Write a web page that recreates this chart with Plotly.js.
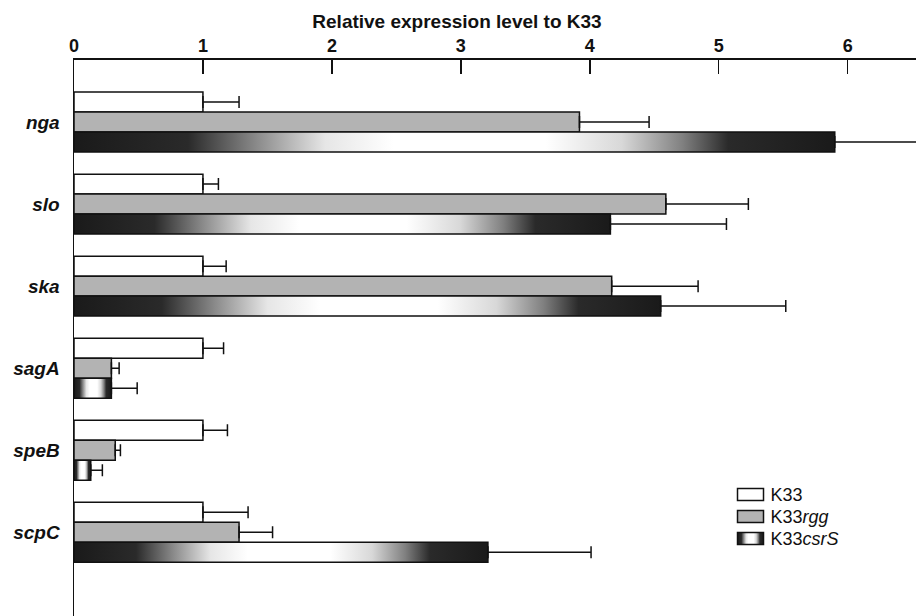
<!DOCTYPE html>
<html>
<head>
<meta charset="utf-8">
<script src="https://cdn.plot.ly/plotly-3.0.1.min.js"></script>
<style>
html,body{margin:0;padding:0;background:#fff;}
#chart{width:916px;height:616px;}
</style>
</head>
<body>
<div id="chart"></div>
<script>
// Data
const genes = ["nga", "slo", "ska", "sagA", "speB", "scpC"];
const k33 = [1.0, 1.0, 1.0, 1.0, 1.0, 1.0];
const k33Err = [1.28, 1.12, 1.18, 1.16, 1.19, 1.35];       // upper end of error bar
const k33rgg = [3.92, 4.59, 4.17, 0.29, 0.32, 1.28];
const k33rggErr = [4.46, 5.23, 4.84, 0.35, 0.36, 1.54];
const k33csrS = [5.90, 4.16, 4.55, 0.29, 0.13, 3.21];
const k33csrSErr = [6.75, 5.06, 5.52, 0.49, 0.22, 4.01];
const seriesNames = ["K33", "K33<i>rgg</i>", "K33<i>csrS</i>"];
const xTicks = [0, 1, 2, 3, 4, 5, 6];

function plus(vals, tops) { return tops.map((t, i) => Math.max(0, t - vals[i])); }
function zeros(n) { return new Array(n).fill(0); }

function barTrace(name, vals, tops, color) {
  return {
    type: "bar", orientation: "h", name: name,
    y: genes, x: vals,
    marker: { color: color, line: { color: "#111", width: 1.5 } },
    error_x: { type: "data", symmetric: false, array: plus(vals, tops),
               arrayminus: zeros(vals.length), color: "#111", thickness: 1.5, width: 6 },
    hoverinfo: "none"
  };
}

const data = [
  barTrace(seriesNames[0], k33, k33Err, "#ffffff"),
  barTrace(seriesNames[1], k33rgg, k33rggErr, "#b3b3b3"),
  barTrace(seriesNames[2], k33csrS, k33csrSErr, "#333333")
];

const layout = {
  width: 916, height: 616,
  margin: { l: 74, r: 0, t: 60, b: 0 },
  paper_bgcolor: "#fff", plot_bgcolor: "#fff",
  font: { family: "Liberation Sans, Arial, sans-serif", color: "#111" },
  barmode: "group", bargap: 0.27, bargroupgap: 0,
  showlegend: true,
  title: { text: "<b>Relative expression level to K33</b>", font: { size: 19, color: "#111" },
           x: 457 / 916, xref: "container", xanchor: "center",
           y: 1 - 21 / 616, yref: "container", yanchor: "middle" },
  xaxis: {
    side: "top", range: [0, 6.53], tickvals: xTicks, ticktext: xTicks.map(String),
    ticks: "inside", ticklen: 14, tickwidth: 1.5, tickcolor: "#111",
    showline: true, linewidth: 2, linecolor: "#111", mirror: false,
    showgrid: false, zeroline: false,
    tickfont: { size: 18, weight: "bold", color: "#111" }, ticklabelstandoff: -1
  },
  yaxis: {
    type: "category", range: [6.02, -0.756],
    showline: true, linewidth: 1.5, linecolor: "#111",
    showgrid: false, zeroline: false, ticks: "",
    tickfont: { size: 19, weight: "bold", style: "italic", color: "#111" },
    ticklabelstandoff: 9
  },
  legend: {
    x: 0.7797, y: 0.255, xanchor: "left", yanchor: "top",
    bgcolor: "rgba(0,0,0,0)", font: { size: 18, color: "#111" },
    tracegroupgap: 0, itemwidth: 30
  }
};

Plotly.newPlot("chart", data, layout, { displayModeBar: false, staticPlot: true }).then(function (gd) {
  const svg = gd.querySelector("svg.main-svg");
  const ns = "http://www.w3.org/2000/svg";
  let defs = svg.querySelector("defs");
  if (!defs) { defs = document.createElementNS(ns, "defs"); svg.insertBefore(defs, svg.firstChild); }
  const grad = document.createElementNS(ns, "linearGradient");
  grad.setAttribute("id", "csrsGrad");
  grad.setAttribute("x1", "0"); grad.setAttribute("x2", "1");
  grad.setAttribute("y1", "0"); grad.setAttribute("y2", "0");
  [[0, "#1a1a1a"], [0.15, "#2a2a2a"], [0.24, "#8a8a8a"], [0.33, "#e6e6e6"], [0.42, "#ffffff"],
   [0.62, "#ffffff"], [0.72, "#d8d8d8"], [0.8, "#808080"], [0.86, "#2a2a2a"], [1, "#1a1a1a"]]
    .forEach(function (s) {
      const st = document.createElementNS(ns, "stop");
      st.setAttribute("offset", s[0]); st.setAttribute("stop-color", s[1]);
      grad.appendChild(st);
    });
  defs.appendChild(grad);
  const traces = gd.querySelectorAll(".barlayer .trace");
  if (traces[2]) traces[2].querySelectorAll(".point path").forEach(function (p) { p.style.fill = "url(#csrsGrad)"; });
  const legendItems = gd.querySelectorAll(".legend .traces");
  let y0 = null;
  legendItems.forEach(function (it, i) {
    const tr = it.getAttribute("transform") || "";
    const m = tr.match(/translate\(\s*([-\d.]+)[ ,]+([-\d.]+)/);
    if (m) {
      if (y0 === null) y0 = parseFloat(m[2]);
      it.setAttribute("transform", "translate(" + m[1] + "," + (y0 + 2 + i * 22) + ")");
    }
    const p = it.querySelector(".legendpoints path");
    if (p) {
      p.setAttribute("d", "M13,6H-13V-6H13Z");
      p.style.strokeWidth = "1.5px";
      p.style.stroke = "#111";
      if (i === 2) p.style.fill = "url(#csrsGrad)";
    }
  });
});
</script>
</body>
</html>
